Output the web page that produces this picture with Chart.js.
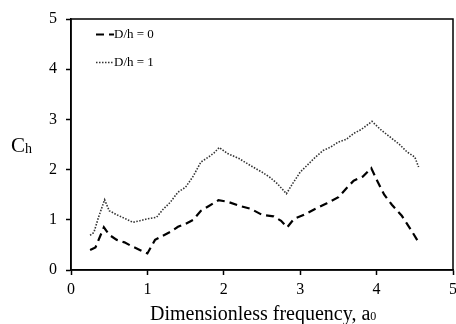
<!DOCTYPE html>
<html>
<head>
<meta charset="utf-8">
<script src="https://cdn.jsdelivr.net/npm/chart.js@4/dist/chart.umd.min.js"></script>
<style>
html,body{margin:0;padding:0;background:#fff;}
#wrap{width:456px;height:324px;}
</style>
</head>
<body>
<div id="wrap"><canvas id="myChart" width="456" height="324"></canvas></div>
<script>
// D/h = 0 (dashed)
var freq0 = [0.25,0.32,0.43,0.5,0.6,0.7,0.8,0.9,1.0,1.1,1.2,1.3,1.4,1.5,1.6,1.7,1.8,1.93,2.05,2.2,2.35,2.5,2.65,2.75,2.83,2.92,3.05,3.2,3.35,3.5,3.6,3.7,3.82,3.93,4.0,4.1,4.2,4.33,4.45,4.55];
var ch0   = [0.40,0.45,0.85,0.70,0.60,0.55,0.47,0.40,0.33,0.60,0.68,0.76,0.86,0.92,1.0,1.18,1.27,1.39,1.36,1.28,1.22,1.10,1.07,0.98,0.85,1.02,1.10,1.22,1.33,1.45,1.62,1.78,1.86,2.03,1.80,1.50,1.30,1.08,0.80,0.55];
// D/h = 1 (dotted)
var freq1 = [0.25,0.3,0.36,0.44,0.5,0.6,0.7,0.81,0.9,1.0,1.12,1.2,1.3,1.4,1.5,1.6,1.7,1.8,1.87,1.94,2.05,2.2,2.35,2.5,2.6,2.7,2.82,2.9,3.0,3.1,3.2,3.3,3.4,3.5,3.6,3.7,3.8,3.94,4.05,4.2,4.3,4.4,4.5,4.55];
var ch1   = [0.69,0.75,1.05,1.40,1.18,1.10,1.03,0.95,0.98,1.02,1.05,1.20,1.35,1.55,1.65,1.87,2.15,2.25,2.33,2.44,2.32,2.22,2.08,1.95,1.85,1.72,1.52,1.72,1.95,2.10,2.25,2.38,2.45,2.55,2.60,2.72,2.80,2.96,2.80,2.62,2.50,2.35,2.25,2.05];
var labels = ['D/h = 0','D/h = 1'];
var xTicks = [0,1,2,3,4,5];
var yTicks = [0,1,2,3,4,5];

function pts(xs, ys){
  var out = [];
  for (var i = 0; i < xs.length; i++) out.push({x: xs[i], y: ys[i]});
  return out;
}

var serif = 'Liberation Serif, Times New Roman, serif';

var extras = {
  id: 'extras',
  afterDraw: function(chart){
    var ctx = chart.ctx, a = chart.chartArea;
    ctx.save();
    // frame
    ctx.strokeStyle = '#000';
    ctx.lineWidth = 1.5;
    ctx.strokeRect(a.left, a.top, a.right - a.left, a.bottom - a.top);
    // legend
    var ds = chart.data.datasets;
    var ly = [34.5, 62.5];
    for (var i = 0; i < ds.length; i++) {
      ctx.beginPath();
      ctx.setLineDash(ds[i].borderDash);
      ctx.lineWidth = ds[i].borderWidth;
      ctx.strokeStyle = ds[i].borderColor;
      ctx.moveTo(96, ly[i]);
      ctx.lineTo(114, ly[i]);
      ctx.stroke();
      ctx.setLineDash([]);
      ctx.fillStyle = '#000';
      ctx.font = '13px ' + serif;
      ctx.textBaseline = 'middle';
      ctx.textAlign = 'left';
      ctx.fillText(ds[i].label, 114, ly[i] + 0.5);
    }
    // y title Ch
    ctx.textBaseline = 'alphabetic';
    ctx.font = '21px ' + serif;
    ctx.fillText('C', 11, 152);
    ctx.font = '14px ' + serif;
    ctx.fillText('h', 25, 153);
    // x title
    ctx.font = '20px ' + serif;
    var t = 'Dimensionless frequency, a';
    ctx.fillText(t, 150, 320);
    var w = ctx.measureText(t).width;
    ctx.font = '12px ' + serif;
    ctx.fillText('0', 150 + w, 320);
    ctx.restore();
  }
};

var chartdata = {
  datasets: [
    {
      label: labels[0],
      data: pts(freq0, ch0),
      borderColor: '#000',
      borderWidth: 2.2,
      borderDash: [8, 5],
      pointRadius: 0,
      tension: 0,
      fill: false
    },
    {
      label: labels[1],
      data: pts(freq1, ch1),
      borderColor: '#333',
      borderWidth: 1.6,
      borderDash: [1.5, 1.5],
      pointRadius: 0,
      tension: 0,
      fill: false
    }
  ]
};

var options = {
  responsive: false,
  animation: false,
  layout: {padding: {top: 19, right: 3, left: 0, bottom: 0}},
  plugins: {legend: {display: false}, tooltip: {enabled: false}},
  scales: {
    x: {
      type: 'linear', min: 0, max: 5,
      afterBuildTicks: function(s){ s.ticks = xTicks.map(function(v){ return {value: v}; }); },
      afterFit: function(s){ s.height = 54; s.paddingLeft = 0; s.paddingRight = 0; },
      grid: {drawOnChartArea: false, tickLength: 5, tickColor: '#000', tickWidth: 1.5},
      border: {color: '#000', width: 1.5},
      ticks: {color: '#000', font: {family: serif, size: 16}, padding: 5, maxRotation: 0}
    },
    y: {
      min: 0, max: 5,
      afterBuildTicks: function(s){ s.ticks = yTicks.map(function(v){ return {value: v}; }); },
      afterFit: function(s){ s.width = 71; s.paddingTop = 0; s.paddingBottom = 0; },
      grid: {drawOnChartArea: false, tickLength: 5, tickColor: '#000', tickWidth: 1.5},
      border: {color: '#000', width: 1.5},
      ticks: {color: '#000', font: {family: serif, size: 16}, padding: 9}
    }
  }
};

var graph = new Chart(document.getElementById('myChart'), {
  type: 'line',
  data: chartdata,
  options: options,
  plugins: [extras]
});
</script>
</body>
</html>
